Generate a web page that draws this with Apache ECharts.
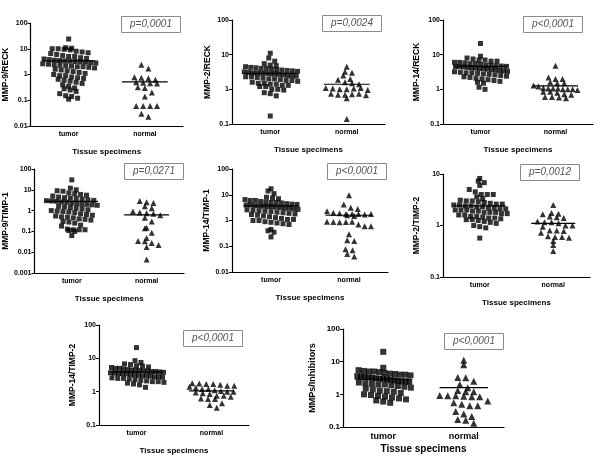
<!DOCTYPE html>
<html><head><meta charset="utf-8">
<script src="https://cdn.jsdelivr.net/npm/echarts@6/dist/echarts.min.js"></script>
<style>html,body{margin:0;padding:0;background:#fff}#c{width:600px;height:462px}</style>
</head><body><div id="c"></div>
<script>
const categories = ['tumor', 'normal'];
const xTitle = 'Tissue specimens';
const yTitles = ['MMP-9/RECK', 'MMP-2/RECK', 'MMP-14/RECK', 'MMP-9/TIMP-1', 'MMP-14/TIMP-1', 'MMP-2/TIMP-2', 'MMP-14/TIMP-2', 'MMPs/Inhibitors'];
const pValues = ['p=0,0001', 'p=0,0024', 'p<0,0001', 'p=0,0271', 'p<0,0001', 'p=0,0012', 'p<0,0001', 'p<0,0001'];
const yMin = [0.01, 0.1, 0.1, 0.001, 0.01, 0.1, 0.1, 0.1];
const yMax = [100, 100, 100, 100, 100, 10, 100, 100];

const tumor1 = [24, 11, 10.5, 10, 10, 9.5, 9, 8, 7.5, 7, 6.5, 6, 5.5, 5, 5, 4.5, 4.2, 4, 3.8, 3.6, 3.5, 3.4, 3.3, 3.2, 3.1, 3, 2.9, 2.8, 2.6, 2.5, 2.4, 2.3, 2.2, 2.1, 2, 2, 1.9, 1.8, 1.6, 1.5, 1.4, 1.3, 1.2, 1.1, 1.0, 0.9, 0.9, 0.8, 0.75, 0.7, 0.65, 0.6, 0.55, 0.5, 0.45, 0.4, 0.35, 0.3, 0.28, 0.25, 0.22, 0.18, 0.15, 0.14, 0.12, 0.11];
const normal1 = [2.4, 1.7, 0.78, 0.75, 0.72, 0.62, 0.5, 0.48, 0.46, 0.45, 0.32, 0.3, 0.2, 0.14, 0.06, 0.06, 0.06, 0.06, 0.03, 0.023];
const tumor2 = [11, 8, 6.5, 5.5, 5, 4.8, 4.5, 4.3, 4.2, 4, 4, 3.8, 3.7, 3.6, 3.5, 3.4, 3.3, 3.2, 3.1, 3, 3, 2.9, 2.9, 2.8, 2.8, 2.7, 2.6, 2.5, 2.5, 2.4, 2.3, 2.3, 2.2, 2.1, 2.0, 2.0, 1.9, 1.8, 1.8, 1.7, 1.6, 1.5, 1.5, 1.4, 1.4, 1.3, 1.3, 1.2, 1.2, 1.0, 1.0, 0.95, 0.8, 0.75, 0.65, 0.17];
const normal2 = [4.5, 3.2, 3.0, 2.5, 2.0, 1.9, 1.6, 1.5, 1.4, 1.1, 1.05, 1.0, 1.0, 1.05, 1.1, 0.95, 0.75, 0.7, 0.7, 0.72, 0.75, 0.68, 0.55, 0.14];
const tumor3 = [21, 9, 8, 7.5, 7, 7, 6.5, 6.5, 6, 6, 5.8, 5.5, 5.5, 5.2, 5, 5, 4.8, 4.7, 4.6, 4.5, 4.5, 4.4, 4.3, 4.2, 4.1, 4, 4, 3.8, 3.7, 3.6, 3.5, 3.4, 3.3, 3.2, 3.1, 3, 3, 2.9, 2.8, 2.7, 2.6, 2.5, 2.4, 2.3, 2.2, 2.1, 2, 1.9, 1.8, 1.7, 1.6, 1.5, 1.15, 1.0];
const normal3 = [4.8, 2.2, 2.0, 2.0, 1.6, 1.5, 1.5, 1.3, 1.2, 1.1, 1.05, 1.05, 1.05, 1.0, 1.0, 1.0, 0.95, 0.85, 0.85, 0.8, 0.72, 0.7, 0.6, 0.6, 0.58, 0.55];
const tumor4 = [30, 12, 10, 9, 8.5, 7, 6.5, 6, 5.5, 5, 4.5, 4.2, 4, 3.8, 3.5, 3.3, 3.1, 3, 2.9, 2.8, 2.6, 2.5, 2.3, 2.2, 2, 2, 1.9, 1.8, 1.6, 1.5, 1.4, 1.3, 1.2, 1.1, 1.0, 0.95, 0.9, 0.85, 0.8, 0.7, 0.65, 0.6, 0.55, 0.5, 0.48, 0.45, 0.4, 0.38, 0.35, 0.3, 0.28, 0.25, 0.2, 0.18, 0.13, 0.12, 0.12, 0.12, 0.11, 0.1, 0.063];
const normal4 = [2.9, 2.5, 2.3, 1.6, 1.3, 0.9, 0.8, 0.75, 0.7, 0.6, 0.45, 0.3, 0.15, 0.14, 0.085, 0.048, 0.035, 0.034, 0.028, 0.022, 0.018, 0.0045];
const tumor5 = [17, 14, 11, 8, 7.5, 7, 6.5, 6, 6, 5.5, 5.2, 5, 5, 4.8, 4.5, 4.3, 4.2, 4, 4, 3.8, 3.7, 3.6, 3.5, 3.4, 3.3, 3.2, 3, 3, 2.8, 2.7, 2.6, 2.5, 2.4, 2.3, 2.2, 2.1, 2, 1.9, 1.8, 1.7, 1.6, 1.5, 1.4, 1.3, 1.2, 1.1, 1.1, 1.0, 1.0, 0.9, 0.85, 0.8, 0.75, 0.7, 0.45, 0.4, 0.35, 0.23];
const normal5 = [9.5, 4.2, 3.1, 2.8, 2.3, 2.0, 1.9, 1.8, 1.8, 1.8, 1.7, 1.8, 1.6, 1.5, 0.9, 0.87, 0.85, 0.88, 0.9, 0.7, 0.6, 0.6, 0.29, 0.17, 0.16, 0.077, 0.07, 0.05, 0.04];
const tumor6 = [8.2, 7.3, 6.8, 6, 5, 4.5, 4, 4, 4, 3.6, 3.3, 3.1, 3, 3, 2.9, 2.8, 2.7, 2.6, 2.6, 2.5, 2.5, 2.4, 2.4, 2.3, 2.3, 2.2, 2.2, 2.1, 2.1, 2.0, 2.0, 2.0, 1.9, 1.9, 1.8, 1.8, 1.8, 1.7, 1.7, 1.6, 1.6, 1.5, 1.5, 1.45, 1.4, 1.4, 1.35, 1.3, 1.3, 1.25, 1.2, 1.15, 1.1, 1.0, 0.95, 0.9, 0.57];
const normal6 = [2.5, 1.75, 1.7, 1.65, 1.5, 1.45, 1.4, 1.2, 1.15, 1.15, 1.1, 1.0, 1.0, 0.95, 0.8, 0.8, 0.78, 0.72, 0.62, 0.6, 0.6, 0.58, 0.5, 0.42, 0.32];
const tumor7 = [21, 8.5, 7.5, 6.8, 6.5, 6, 5.8, 5.5, 5.3, 5, 5, 4.8, 4.6, 4.5, 4.4, 4.3, 4.2, 4.1, 4, 4, 3.9, 3.8, 3.7, 3.6, 3.5, 3.5, 3.4, 3.3, 3.2, 3.1, 3, 3, 2.9, 2.8, 2.8, 2.7, 2.6, 2.5, 2.5, 2.4, 2.3, 2.2, 2.1, 2, 2, 1.9, 1.8, 1.7, 1.6, 1.35];
const normal7 = [1.8, 1.75, 1.7, 1.7, 1.6, 1.5, 1.5, 1.4, 1.3, 1.2, 1.2, 1.1, 1.05, 1.0, 1.0, 0.95, 0.9, 0.85, 0.75, 0.75, 0.7, 0.62, 0.6, 0.6, 0.45, 0.4, 0.33];
const tumor8 = [20, 6.5, 5.5, 5.2, 5, 5, 4.8, 4.5, 4.3, 4.2, 4, 4, 3.8, 3.6, 3.5, 3.4, 3.3, 3.2, 3.1, 3, 3, 2.9, 2.8, 2.7, 2.6, 2.5, 2.5, 2.4, 2.3, 2.2, 2.1, 2, 2, 1.9, 1.8, 1.7, 1.6, 1.5, 1.4, 1.3, 1.25, 1.2, 1.1, 1.0, 0.95, 0.9, 0.85, 0.8, 0.75, 0.7, 0.65, 0.6, 0.55];
const normal8 = [11, 8, 3.3, 3.2, 2.5, 2.0, 1.6, 1.3, 1.2, 1.2, 0.92, 0.9, 0.9, 0.88, 0.85, 0.85, 0.62, 0.55, 0.5, 0.45, 0.45, 0.3, 0.25, 0.21, 0.17, 0.16, 0.13];
const tumorMedians = [3.4, 2.9, 4.6, 2.8, 3.7, 2.4, 3.9, 2.9];
const normalMedians = [0.52, 1.4, 1.25, 0.62, 1.6, 1.1, 1.05, 1.6];

const tumorSets = [tumor1, tumor2, tumor3, tumor4, tumor5, tumor6, tumor7, tumor8];
const normalSets = [normal1, normal2, normal3, normal4, normal5, normal6, normal7, normal8];

// layout (pixels)
const layout = [
  {l: 30, t: 23, w: 153, h: 103, yg: 20, big: false},
  {l: 232, t: 20, w: 153, h: 104, yg: 20, big: false},
  {l: 443, t: 20, w: 150, h: 104, yg: 22, big: false},
  {l: 31, t: 169, w: 153, h: 104, yg: 20, big: false},
  {l: 232, t: 169, w: 156, h: 103, yg: 20, big: false},
  {l: 443, t: 174, w: 147, h: 103, yg: 22, big: false},
  {l: 99, t: 325, w: 150, h: 100, yg: 22, big: false},
  {l: 343, t: 329, w: 161, h: 98, yg: 26, big: true}
];
const boxes = [[121, 16], [322, 15], [523, 16], [124, 163], [327, 163], [520, 164], [183, 330], [444, 333]];

const FONT = 'Liberation Sans';

// deterministic row-binned dot-plot placement (GraphPad style)
function rows(values, center, L, i, size, maxHalf) {
  const lmin = Math.log10(yMin[i]), lmax = Math.log10(yMax[i]);
  const pxDec = L.h / (lmax - lmin);
  const pxUnit = L.w / 2;
  const bins = new Map();
  values.forEach(v => {
    const py = (Math.log10(v) - lmin) * pxDec;
    const b = Math.round(py / size);
    if (!bins.has(b)) bins.set(b, []);
    bins.get(b).push(v);
  });
  const out = [];
  bins.forEach((arr, b) => {
    const n = arr.length;
    let sp = size + 1;
    if (n > 1 && (n - 1) * sp / 2 > maxHalf) sp = 2 * maxHalf / (n - 1);
    const shift = (b % 2 === 0) ? 0 : sp * 0.25;
    arr.forEach((v, j) => {
      const dx = (j - (n - 1) / 2) * sp + (n > 1 ? shift : 0);
      out.push([center + dx / pxUnit, v]);
    });
  });
  return out;
}

const grids = [], xAxes = [], yAxes = [], series = [], titles = [];
layout.forEach((L, i) => {
  const fs = L.big ? 9 : 7;
  grids.push({left: L.l, top: L.t, width: L.w, height: L.h, containLabel: false});
  xAxes.push({
    type: 'category', gridIndex: i, data: categories, boundaryGap: true,
    axisLine: {lineStyle: {color: '#000', width: 1.2}},
    axisTick: {alignWithLabel: true, length: 3, lineStyle: {color: '#000'}},
    axisLabel: {color: '#000', fontFamily: FONT, fontWeight: 'bold', fontSize: fs, margin: 5},
    splitLine: {show: false},
    name: xTitle, nameLocation: 'middle', nameGap: L.big ? 17 : 22,
    nameTextStyle: {color: '#000', fontFamily: FONT, fontWeight: 'bold', fontSize: L.big ? 10 : 8}
  });
  xAxes.push({type: 'value', gridIndex: i, min: 0.5, max: 2.5, show: false, splitLine: {show: false}});
  yAxes.push({
    type: 'log', logBase: 10, gridIndex: i, min: yMin[i], max: yMax[i],
    axisLine: {show: true, lineStyle: {color: '#000', width: 1.2}},
    axisTick: {show: true, length: 3, lineStyle: {color: '#000'}},
    minorTick: {show: false},
    axisLabel: {color: '#000', fontFamily: FONT, fontWeight: 'bold', fontSize: L.big ? 8 : 7, margin: 3,
      formatter: v => String(+(+v).toPrecision(1))},
    splitLine: {show: false},
    name: yTitles[i], nameLocation: 'middle', nameGap: L.yg, nameRotate: 90,
    nameTextStyle: {color: '#000', fontFamily: FONT, fontWeight: 'bold', fontSize: L.big ? 9 : 8.5}
  });
  const vx = i * 2 + 1;
  const ts = L.big ? 6 : 5, ns = L.big ? 7 : 6;
  series.push({
    type: 'scatter', xAxisIndex: vx, yAxisIndex: i, symbol: 'rect', symbolSize: ts,
    itemStyle: {color: '#000'}, silent: true, animation: false,
    data: rows(tumorSets[i], 1, L, i, ts, 26)
  });
  series.push({
    type: 'scatter', xAxisIndex: vx, yAxisIndex: i, symbol: 'triangle', symbolSize: ns,
    itemStyle: {color: '#000'}, silent: true, animation: false,
    data: rows(normalSets[i], 2, L, i, ns, L.big ? 30 : 22)
  });
  series.push({
    type: 'line', xAxisIndex: vx, yAxisIndex: i, symbol: 'none', silent: true, animation: false, z: 5,
    lineStyle: {color: '#000', width: 1.2},
    data: [[1 - 0.35, tumorMedians[i]], [1 + 0.35, tumorMedians[i]]]
  });
  series.push({
    type: 'line', xAxisIndex: vx, yAxisIndex: i, symbol: 'none', silent: true, animation: false, z: 5,
    lineStyle: {color: '#000', width: 1.2},
    data: [[2 - 0.3, normalMedians[i]], [2 + 0.3, normalMedians[i]]]
  });
  titles.push({
    text: pValues[i], left: boxes[i][0], top: boxes[i][1],
    borderColor: '#8a8a8a', borderWidth: 1, padding: [3, 9],
    textStyle: {fontFamily: FONT, fontStyle: 'italic', fontWeight: 'normal', fontSize: 10, color: '#555', lineHeight: 11}
  });
});

const chart = echarts.init(document.getElementById('c'), null, {renderer: 'canvas'});
chart.setOption({
  backgroundColor: '#fff', animation: false,
  title: titles, grid: grids, xAxis: xAxes, yAxis: yAxes, series: series
});
</script></body></html>
